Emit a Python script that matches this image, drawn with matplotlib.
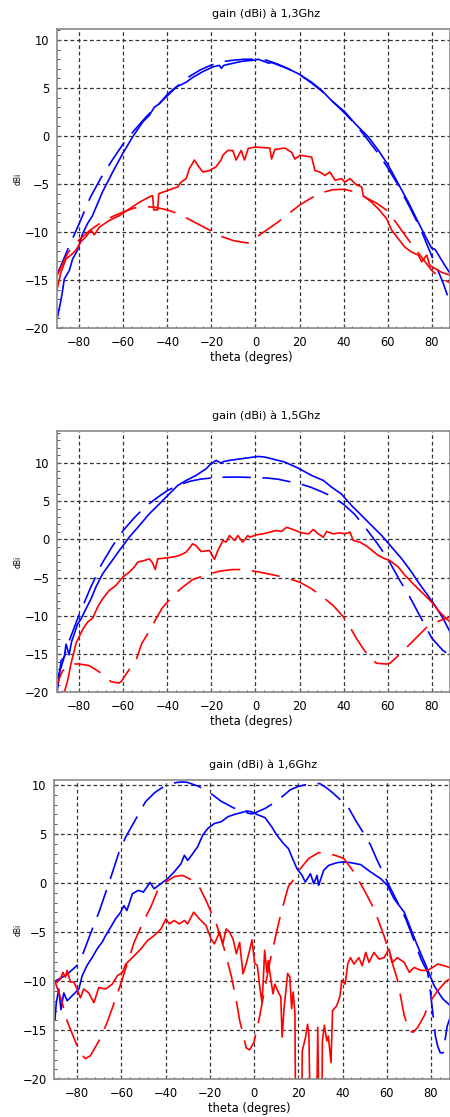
import numpy as np
import matplotlib
matplotlib.use("Agg")
import matplotlib.pyplot as plt
from matplotlib.ticker import MultipleLocator

# =========================
# DATA  (gain in dBi vs theta in degrees)
# blue = co-polar, red = cross-polar ; solid = measured, dashed = simulated
# =========================

# ---- 1,3 GHz ----
p13_bm_x = [-90, -88.3, -87.5, -86.8, -84.5, -83, -80.8, -78.5, -76.2, -74, -69.4, -64.8,
            -60.3, -55.8, -51.2, -48.2, -45.9, -43.6, -39.8, -36, -31.5, -28.5, -24, -19.4,
            -16.4, -15.5, -14.5, -11.8, -5.8, -0.5, 1.2, 3, 5.8, 7.5, 10.3, 14.8, 19.4,
            25.5, 30, 34.5, 40.6, 45.2, 51.2, 55.8, 60.3, 64.8, 69.4, 73.9, 77.7, 80, 81.5,
            82.3, 86, 88.3, 90]
p13_bm_y = [-19, -17.1, -16, -14.9, -14, -12.8, -11.9, -10.2, -9.1, -8.3, -5.8, -3.75,
            -1.84, -0.1, 1.46, 2.15, 3, 3.37, 4.4, 5.1, 5.6, 6.1, 6.7, 7.2,
            7.36, 7.05, 7.35, 7.5, 7.8, 7.9, 8, 7.85, 7.6, 7.65, 7.4, 7, 6.5,
            5.6, 4.76, 3.7, 2.5, 1.3, -0.1, -1.5, -3.05, -4.97, -6.9, -9, -10.7, -11.7, -11.8,
            -12.1, -13.5, -14.3, -14.8]

p13_bs_x = [-90, -85, -80, -75, -70, -65, -60, -55, -50, -45, -40, -35, -30, -25, -20, -15,
            -10, -5, 0, 5, 10, 15, 20, 25, 30, 35, 40, 45, 50, 55, 60, 65, 70, 75, 80, 85,
            88.5, 90]
p13_bs_y = [-14.4, -11.7, -9.1, -6.4, -4.3, -2.5, -0.8, 0.6, 1.9, 3.1, 4.2, 5.3, 6.2, 6.9,
            7.4, 7.75, 7.9, 8, 8, 7.9, 7.5, 7, 6.4, 5.6, 4.7, 3.6, 2.5, 1.3, -0.1, -1.6,
            -3.3, -5.2, -7.4, -9.7, -12.5, -15.2, -17.5, -18.3]

p13_rm_x = [-90, -88.3, -86, -83.8, -81.5, -79.2, -77, -74.7, -73.2, -70.9, -66.4, -61.8,
            -57.3, -52.7, -48.2, -46.7, -46.2, -44.4, -43.9, -39.8, -35.3, -33.8, -31.5, -30,
            -27.7, -26.2, -23.9, -20.9, -17.9, -15.6, -14.8, -12.6, -10.3, -8.8, -6.5, -5,
            -3.3, -0.3, 3, 6.5, 7.3, 8.8, 13.3, 16.4, 17.9, 20.2, 25.5, 27, 29.2, 31.5, 33.8,
            36.1, 39.1, 40.6, 42.9, 45.9, 48.2, 48.9, 52.7, 55.8, 59.5, 61.8, 64.8, 67.9,
            70.9, 73.9, 75.5, 77.7, 79.2, 81.5, 84.5, 88.3, 90]
p13_rm_y = [-15.9, -14.2, -12.8, -12.4, -11.9, -11, -10.5, -9.8, -10.3, -9.5, -8.8, -8.3,
            -7.6, -6.9, -6.35, -6.2, -7.7, -7.7, -6, -5.66, -5.3, -4.8, -4.45, -3.4,
            -2.5, -3.05, -3.75, -3.6, -3.2, -2.5, -2, -1.5, -1.5, -2.5, -1.5, -2.5,
            -1.3, -1.15, -1.2, -1.25, -2.4, -1.4, -1.25, -1.7, -2.4, -2, -2.2, -3.6, -3.75,
            -4.1, -3.75, -4.6, -4.44, -4.8, -4.44, -5.1, -5.3, -6.2, -6.9, -7.6, -8.6, -9.8,
            -10.7, -11.6, -12.1, -12.4, -13.1, -12.4, -13.5, -13.8, -14.2, -14.5, -14.7]

p13_rs_x = [-90, -85, -80, -75, -70, -65, -60, -55, -50, -45, -40, -35, -30, -25, -20, -15,
            -10, -5, -3, -1, 0, 5, 10, 15, 20, 25, 30, 35, 40, 45, 50, 55, 60, 65, 70, 75,
            80, 82, 85, 90]
p13_rs_y = [-14.5, -12.1, -10.8, -9.8, -9, -8.4, -7.9, -7.5, -7.35, -7.45, -7.7, -8.1,
            -8.7, -9.3, -9.9, -10.5, -10.9, -11.1, -11.15, -10.8, -10.6, -9.8, -9, -8.1,
            -7.2, -6.5, -5.9, -5.6, -5.55, -5.8, -6.4, -7, -7.8, -9.4, -11, -12.5, -14,
            -14.4, -14.9, -15.5]

# ---- 1,5 GHz ----
p15_bm_x = [-90.3, -89.1, -88.3, -86.8, -86, -84.6, -83.5, -82.3, -80.8, -79.2, -77, -74.7,
            -72.4, -69.4, -65.6, -61.8, -57.3, -52.7, -48.2, -43.6, -39.1, -35.3, -31.5, -27,
            -22.4, -20.2, -17.9, -15.6, -14.5, -11.8, -5.8, -0.5, 1.2, 4, 7.3, 13.3, 19.4,
            25.5, 30.8, 34.5, 38.9, 43.6, 48.2, 52.7, 57.3, 61.8, 66.4, 70.9, 73.9, 77.7,
            81.5, 85.3, 88.3, 90]
p15_bm_y = [-20.5, -18, -15.9, -15.4, -13.7, -15.1, -13.4, -12.4, -11.1, -10.4, -9.1, -7.8,
            -6.2, -4.5, -2.97, -1.44, 0.3, 1.83, 3.36, 4.67, 5.98, 7.07, 7.73, 8.38,
            9.26, 9.9, 10.35, 10, 10.2, 10.35, 10.6, 10.8, 10.87, 10.8, 10.57, 10.13, 9.34,
            8.38, 7.73, 6.86, 5.98, 4.45, 3.14, 1.83, 0.52, -1, -2.53, -4.28, -5.6, -7.1,
            -8.65, -10.4, -12.1, -13]

p15_bs_x = [-90, -88, -85, -80, -75, -70, -65, -60, -55, -50, -45, -40, -35, -30, -25, -20,
            -15, -10, -5, 0, 5, 10, 15, 20, 25, 30, 35, 40, 45, 50, 55, 60, 65, 70, 75, 78,
            80, 85, 88.5, 90]
p15_bs_y = [-18.2, -16.5, -13.6, -9.8, -6.4, -3.3, -0.9, 1.2, 2.85, 4.3, 5.4, 6.4, 7.1,
            7.6, 7.9, 8.05, 8.15, 8.17, 8.15, 8.1, 8.05, 7.9, 7.6, 7.3, 6.85, 6.25, 5.6,
            4.6, 3.3, 1.5, -0.4, -2.5, -5.1, -7.5, -10.2, -11.8, -12.9, -14.5, -15.2, -15.8]

p15_rm_x = [-90.5, -87, -85.3, -83.8, -82.3, -81.5, -80, -78.5, -76.2, -73.9, -71.7, -69.4,
            -66.4, -63.3, -60.3, -57.3, -55, -53.5, -50.5, -48.2, -46.7, -45.5, -44.4, -41.4,
            -37.6, -34.5, -31.5, -28.5, -27, -24.7, -20.9, -18.6, -17.1, -14.8, -13.3,
            -11.8, -9.5, -8, -5.8, -3.5, -2.6, 0.45, 3.5, 6.5, 9.5, 11.8, 14.1, 17.1, 20.9,
            24.2, 26.2, 28.5, 30.8, 32.3, 35.3, 38.3, 40.6, 42.9, 44.4, 47.4, 50.5, 53.5,
            55.8, 58.8, 61, 64.8, 67.9, 70.9, 73.9, 77, 80, 83, 86.1, 88.3, 90]
p15_rm_y = [-21, -20.2, -18.5, -16.3, -14.6, -13.6, -12.7, -11.8, -10.8, -10.3, -8.86, -7.77,
            -6.68, -6, -4.93, -4.28, -3.6, -2.97, -2.75, -2.53, -3.06, -3.93, -2.53, -2.45,
            -2.3, -2.1, -1.66, -0.57, -0.79, -1.57, -1.44, -2.6, -1.44, -0.13, -0.35,
            0.52, -0.13, 0.52, -0.35, 0.52, 0.3, 0.61, 0.74, 0.96, 1.18, 1.05, 1.6, 1.3, 0.87,
            0.74, 1.31, 0.74, 0.3, 1.05, 0.74, 0.87, 0.74, 0.96, -0.13, -0.35, -0.87, -1.57,
            -2.1, -2.53, -2.75, -3.6, -4.7, -5.6, -6.46, -7.34, -8.2, -9.3, -10.2, -10.8, -11.2]

p15_rs_x = [-90.5, -89.8, -87.6, -84.5, -82, -80, -75.5, -70, -65.6, -62, -61, -57.5, -54,
            -51.6, -48, -45, -42.4, -37, -33.3, -28.5, -22, -16.4, -10.3, -5, -0.5, 2, 8, 14,
            20.2, 25.5, 30, 35.3, 39.8, 42, 45.9, 49.4, 52, 55, 59.5, 61, 64.1, 68, 73.2,
            77.7, 80, 83, 87.6, 90]
p15_rs_y = [-20.5, -18.7, -17.2, -16.6, -16.3, -16.3, -16.5, -17.5, -18.6, -18.8, -18.6, -17.1,
            -15.6, -13.6, -11.9, -10.3, -9, -7.2, -6.3, -5.24, -4.6, -4.15, -3.93, -3.95,
            -4.15, -4.28, -4.63, -5, -5.6, -6.46, -7.4, -8.65, -10.1, -11, -13, -14.5, -15.5,
            -16.2, -16.3, -16.2, -15.4, -14.3, -12.8, -11.5, -11.1, -10.7, -10.2, -10]

# ---- 1,6 GHz ----
p16_bm_x = [-90, -89.4, -88.3, -87.3, -86, -84.5, -82.3, -79.2, -77.7, -75.5, -73.2, -70.9,
            -68.6, -67.1, -64.8, -62.6, -60.3, -58.8, -57.5, -55, -52.4, -50, -47, -45.2,
            -42.1, -39.1, -36.1, -33, -31.5, -30, -27.7, -25.5, -23.2, -20.9, -17.9, -14.8,
            -11.8, -8.8, -5.8, -3.3, -1.2, 1.2, 5, 8, 10.3, 13.3, 15.6, 17.1, 19.4, 21.7,
            23.2, 25.5, 27, 28.5, 29.2, 31.5, 33.8, 37.6, 40.6, 43.6, 48.2, 52.7, 57.3, 60.3,
            63.3, 67.9, 70.9, 73.9, 77.7, 81.5, 85.3, 89.8]
p16_bm_y = [-13.9, -12.2, -10.8, -12.9, -11.2, -12, -11.5, -10.8, -9.45, -8.4, -7.6, -6.7,
            -6, -5.36, -4.5, -3.65, -2.97, -2.3, -2.8, -1.1, -0.75, -0.92, 0.07, -0.58,
            -0.07, 0.44, 1.13, 1.98, 2.83, 2.3, 3, 3.69, 4.88, 5.56, 6.07, 6.25,
            6.76, 7, 7.17, 7.34, 7.27, 7, 6.66, 5.73, 4.88, 4.03, 3.5, 2.66, 1.47, 0.78,
            0.1, 0.95, -0.07, 0.78, -0.24, 1.3, 1.81, 2.08, 2.15, 2.08, 1.88, 1.13, 0.44, -0.24,
            -1.6, -2.97, -4.7, -6.4, -8.4, -10.5, -11.8, -12.7]

p16_bs_x = [-90, -85, -80, -77.7, -75, -73, -70, -65, -61, -58, -55, -52, -49, -45, -40, -35,
            -32, -30, -25, -22.4, -20, -16.4, -15, -10, -7.3, -5, -3, -1.5, 0, 5, 10, 11.8,
            16.4, 20, 25, 28.5, 30, 33, 35, 40, 42.9, 45.9, 50, 52.7, 55, 60.3, 61.8, 65,
            68.6, 70.9, 75.5, 78.5, 79.7, 82, 83, 84.2, 85.5, 87.3, 90]
p16_bs_y = [-10, -9.4, -8.4, -7.4, -5.8, -4.6, -2.9, 0.4, 3.17, 4.7, 5.9, 7.1, 8.3, 9.2, 9.95,
            10.25, 10.3, 10.25, 9.85, 9.5, 9.2, 8.6, 8.35, 7.75, 7.44, 7.3, 7.15, 7.05, 7.1,
            7.6, 8.3, 8.63, 9.5, 9.85, 10.1, 10.17, 10.1, 9.66, 9.3, 8.3, 7.6, 6.4, 4.9, 3.86,
            2.66, 0.1, -0.58, -2, -3.65, -5, -7.75, -9.1, -11, -15.6, -16.6, -17.3, -17.3,
            -14.6, -12.8]

p16_rm_x = [-90, -89.1, -87.6, -86.4, -85.3, -84.5, -83, -81.5, -80, -78.5, -77, -74.7,
            -72.4, -70.2, -67.1, -64.1, -61.8, -59.5, -58, -55, -51.2, -48.2, -45.2, -42.1,
            -39.8, -38.3, -36.1, -33.8, -31.5, -30, -27.3, -24.7, -21.7, -19.4, -17.9, -15.6,
            -14.1, -12.6, -11.1, -9.5, -8, -6.5, -5, -3.5, -2, -0.9, 0.3, 1.5, 2.6, 3.6, 4.1,
            4.8, 5.8, 6.4, 7.9, 8.6, 9.4, 10.9, 12.1, 12.7, 13.6, 15.2, 16.2, 17, 17.7, 18.5,
            18.8, 21.5, 21.8, 23.3, 24.2, 24.8, 25.5, 28.3, 28.8, 29.4, 30.6, 30.9, 31.8, 32.9,
            33.6, 34.8, 35.5, 37.4, 38.9, 39.7, 41.2, 42.4, 43.6, 45.2, 47.4, 48.9, 50.5, 52,
            54.2, 56.5, 58.8, 61, 62.6, 64.8, 67.9, 70.2, 72.4, 75.5, 78.5, 80.8, 83, 86, 89.8]
p16_rm_y = [-10, -10.1, -9.8, -9.1, -9.6, -8.9, -10.1, -10.1, -10.8, -11.7, -10.8, -11.2,
            -12.2, -10.65, -10.8, -10.3, -9.45, -9.1, -8.26, -7.6, -6.72, -5.87, -5.36, -4.68,
            -3.65, -4.16, -3.82, -4.16, -3.82, -4.16, -2.97, -3.65, -4.33, -5.7, -6.2, -5,
            -6.2, -4.68, -5, -5.7, -7.2, -6.04, -9.25, -8.2, -6.85, -5.8, -8.2, -8.4, -10.6,
            -12.15, -10.3, -6.85, -9.1, -7.9, -10.3, -11.3, -10.3, -11.1, -11.6, -15.7, -12.7,
            -9.2, -9.6, -12.8, -11.1, -13.3, -25, -25, -17.1, -15.7, -14.4, -15.4, -25, -25,
            -14.7, -25, -25, -16.1, -14.5, -16.1, -15.6, -18.3, -13, -12.5, -11.5, -9.9, -10.3,
            -8.2, -7.6, -8.26, -7.6, -8.43, -7.07, -8.09, -7.07, -7.75, -7.6, -6.72, -8.09,
            -7.6, -8.09, -9.1, -8.6, -8.9, -8.9, -8.6, -8.26, -8.43, -8.7]

p16_rs_x = [-90, -87, -84.5, -80, -78, -76.2, -74, -69.4, -66.4, -62.6, -60.3, -54.2, -50,
            -46.7, -43.6, -40, -35.8, -32.3, -28, -24.7, -21.7, -16.8, -13.5, -10.3, -8, -6.5,
            -3.5, -2, 0, 2.6, 5, 7, 9.4, 11, 13, 15.6, 17.1, 20, 24.7, 29.2, 33, 37, 40.6,
            45.2, 50, 54.2, 58.8, 62, 64.8, 67.9, 70.2, 72, 74, 77, 79.2, 83, 86.8, 90]
p16_rs_y = [-10, -12, -14.06, -16.6, -17.5, -17.9, -17.6, -15.8, -14.2, -11.8, -10.3, -6.04,
            -3.9, -2.46, -0.75, 0.1, 0.68, 0.78, 0.3, -0.41, -1.77, -4.33, -6.7, -9.45, -12,
            -14, -16.8, -17, -16.2, -13.5, -10.6, -8.2, -5.8, -4.2, -2.4, -0.3, 0.1, 1.2, 2.5,
            3.1, 3.05, 2.8, 2.5, 1.1, -0.8, -2.6, -5.4, -7.8, -9.8, -13.5, -15.1, -15.2,
            -14.7, -13.5, -12.2, -11, -10, -9.6]

TITLES = ["gain (dBi) à 1,3Ghz", "gain (dBi) à 1,5Ghz", "gain (dBi) à 1,6Ghz"]
XLABEL = "theta (degres)"
YLABEL = "dBi"

# =========================
# LAYOUT (pixels of the 450x1117 output)
# =========================
W, H = 450, 1117
# left, top, bottom (px), xlim, ylim, title x, xlabel x
PANELS = [
    dict(left=57, top=29, bottom=328, xlim=(-90.1, 88.3), ylim=(-20, 11.15), tx=265.8, lx=251.7,
         curves=[(p13_bm_x, p13_bm_y, "blue", "-"), (p13_bs_x, p13_bs_y, "blue", "--"),
                 (p13_rm_x, p13_rm_y, "red", "-"), (p13_rs_x, p13_rs_y, "red", "--")]),
    dict(left=57, top=431, bottom=692.3, xlim=(-90.1, 88.3), ylim=(-20, 14.2), tx=266.3, lx=251.7,
         curves=[(p15_bm_x, p15_bm_y, "blue", "-"), (p15_bs_x, p15_bs_y, "blue", "--"),
                 (p15_rm_x, p15_rm_y, "red", "-"), (p15_rs_x, p15_rs_y, "red", "--")]),
    dict(left=54.3, top=780, bottom=1079.3, xlim=(-90.3, 88.6), ylim=(-20, 10.5), tx=263, lx=249,
         curves=[(p16_bm_x, p16_bm_y, "blue", "-"), (p16_bs_x, p16_bs_y, "blue", "--"),
                 (p16_rm_x, p16_rm_y, "red", "-"), (p16_rs_x, p16_rs_y, "red", "--")]),
]

fig = plt.figure(figsize=(W / 100, H / 100), dpi=100)

for i, p in enumerate(PANELS):
    ax_w = W - p["left"]
    ax_h = p["bottom"] - p["top"]
    ax = fig.add_axes([p["left"] / W, (H - p["bottom"]) / H, ax_w / W, ax_h / H])

    for x, y, col, ls in p["curves"]:
        if ls == "--":
            ax.plot(x, y, color=col, lw=1.2, linestyle=(0, (17, 7)))
        else:
            ax.plot(x, y, color=col, lw=1.2)

    ax.set_xlim(*p["xlim"])
    ax.set_ylim(*p["ylim"])
    ax.xaxis.set_major_locator(MultipleLocator(20))
    ax.xaxis.set_minor_locator(MultipleLocator(4))
    ax.yaxis.set_major_locator(MultipleLocator(5))
    ax.yaxis.set_minor_locator(MultipleLocator(1))

    ax.grid(True, which="major", color="#333333", lw=0.9, linestyle=(0, (3, 2.2)))
    ax.tick_params(which="both", direction="in", colors="#555555", labelcolor="black",
                   labelsize=8.3, top=False, right=False)
    ax.tick_params(which="major", length=3, width=0.8, pad=5.5)
    ax.tick_params(which="minor", length=1.8, width=0.7)
    for s in ax.spines.values():
        s.set_color("#8a8a8a")
        s.set_linewidth(1.2)

    ax.set_title(TITLES[i], fontsize=8.1, x=(p["tx"] - p["left"]) / ax_w,
                 y=1 + 15.5 / ax_h, pad=0, va="center")
    ax.set_xlabel(XLABEL, fontsize=8.3, va="center")
    ax.xaxis.set_label_coords((p["lx"] - p["left"]) / ax_w, -29 / ax_h)
    ax.set_ylabel(YLABEL, fontsize=5.5, va="center")
    ax.yaxis.set_label_coords((18 - p["left"]) / ax_w, 0.5)

fig.savefig("out.png", dpi=100)
